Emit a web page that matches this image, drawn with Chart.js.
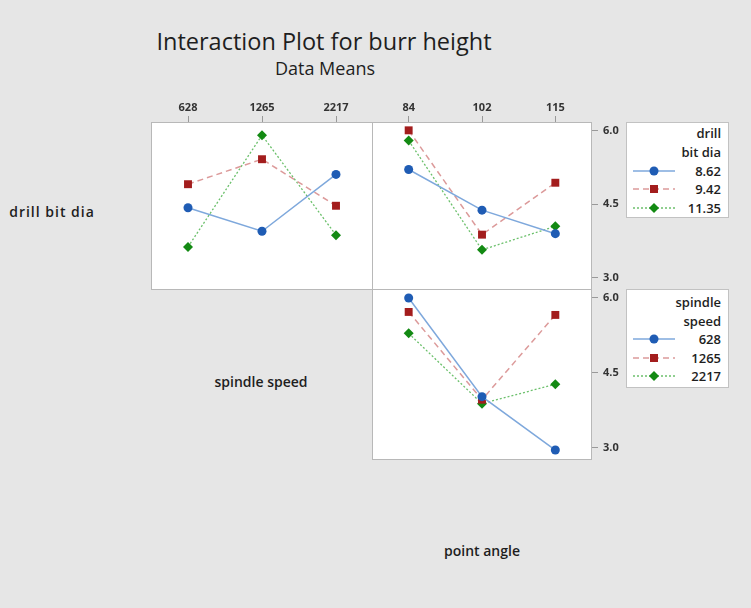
<!DOCTYPE html>
<html>
<head>
<meta charset="utf-8">
<script src="https://cdn.jsdelivr.net/npm/chart.js@4.4.1/dist/chart.umd.min.js"></script>
<style>
  body { margin: 0; width: 751px; height: 608px; overflow: hidden; background: #e6e6e6;
         font-family: 'Open Sans', sans-serif; color: #1e1e1e; position: relative; }
  canvas { position: absolute; }
  .txt { position: absolute; white-space: nowrap; transform: translate(-50%, -50%); }
  .lbl { font-size: 14px; font-weight: 600; }
  .legend { position: absolute; background: #fff; border: 1px solid #c2c2c2; box-sizing: border-box;
            font-size: 13px; font-weight: 600; text-align: right; padding-right: 7px; }
  .legend .row { position: relative; }
  .legend svg { position: absolute; left: 5px; top: 0; }
</style>
</head>
<body>
<div class="txt" style="left:324px;top:41px;font-size:23.5px;font-weight:500;">Interaction Plot for burr height</div>
<div class="txt" style="left:325px;top:68px;font-size:18px;font-weight:500;">Data Means</div>
<div class="txt lbl" style="left:52px;top:211px;letter-spacing:1px;">drill bit dia</div>
<div class="txt lbl" style="left:261px;top:381px;">spindle speed</div>
<div class="txt lbl" style="left:482px;top:550px;">point angle</div>

<canvas id="c1" width="222" height="194" style="left:151px;top:96px"></canvas>
<canvas id="c2" width="262" height="194" style="left:372px;top:96px"></canvas>
<canvas id="c3" width="262" height="171" style="left:372px;top:289px"></canvas>

<div class="legend" id="leg1" style="left:626px;top:122px;width:103px;height:96px;padding-top:1px;line-height:18.75px"></div>
<div class="legend" id="leg2" style="left:626px;top:289px;width:103px;height:99px;padding-top:3px;line-height:18.5px"></div>

<script>
// factor levels
const spindleSpeeds = ['628', '1265', '2217'];
const pointAngles = ['84', '102', '115'];
const drillBitDias = ['8.62', '9.42', '11.35'];

// drill bit dia x spindle speed (top left)
const dia862BySpeed = [4.43, 3.95, 5.11];
const dia942BySpeed = [4.91, 5.42, 4.47];
const dia1135BySpeed = [3.63, 5.91, 3.87];

// drill bit dia x point angle (top right)
const dia862ByAngle = [5.21, 4.38, 3.90];
const dia942ByAngle = [6.01, 3.88, 4.94];
const dia1135ByAngle = [5.80, 3.57, 4.05];

// spindle speed x point angle (bottom right)
const speed628ByAngle = [6.00, 4.02, 2.95];
const speed1265ByAngle = [5.72, 3.96, 5.66];
const speed2217ByAngle = [5.29, 3.88, 4.27];

const yTicks = [3.0, 4.5, 6.0];

// line looks for the three levels
const looks = [
  { line: '#7ea8dc', point: '#1f5cb4', shape: 'circle', radius: 4.5, dash: [], width: 1.5 },
  { line: '#dc9a9a', point: '#a31d1d', shape: 'rect', radius: 5.6, dash: [6, 4], width: 1.5 },
  { line: '#6cc06c', point: '#138a13', shape: 'rectRot', radius: 5, dash: [2, 2], width: 1.3 }
];

const framePlugin = {
  id: 'frame',
  beforeDatasetsDraw(chart) {
    const a = chart.chartArea, ctx = chart.ctx;
    ctx.save();
    ctx.fillStyle = '#fff';
    ctx.fillRect(a.left, a.top, a.right - a.left, a.bottom - a.top);
    ctx.strokeStyle = '#b8b8b8';
    ctx.lineWidth = 1;
    ctx.strokeRect(Math.round(a.left) + 0.5, Math.round(a.top) + 0.5,
      Math.round(a.right - a.left) - 1, Math.round(a.bottom - a.top) - 1);
    ctx.restore();
  }
};

function makeChart(id, labels, series, showX, showY) {
  const tickFont = { family: 'Open Sans', size: 11, weight: '700' };
  new Chart(document.getElementById(id), {
    type: 'line',
    data: {
      labels,
      datasets: series.map((values, i) => ({
        data: values,
        borderColor: looks[i].line,
        borderWidth: looks[i].width,
        borderDash: looks[i].dash,
        pointStyle: looks[i].shape,
        pointRadius: looks[i].radius,
        pointBackgroundColor: looks[i].point,
        pointBorderColor: looks[i].point,
        pointBorderWidth: 0,
        tension: 0,
        clip: false
      }))
    },
    options: {
      responsive: false,
      animation: false,
      devicePixelRatio: 1,
      layout: { padding: 0, autoPadding: false },
      plugins: { legend: { display: false }, tooltip: { enabled: false } },
      scales: {
        x: {
          display: showX,
          position: 'top',
          offset: true,
          grid: { drawOnChartArea: false, tickLength: 6, color: '#999' },
          border: { display: false },
          ticks: { color: '#333', font: tickFont, padding: 2, maxRotation: 0 },
          afterFit: s => { s.height = showX ? 26 : 0; s.paddingLeft = 0; s.paddingRight = 0; }
        },
        y: {
          display: showY,
          position: 'right',
          min: 2.75,
          max: 6.18,
          afterBuildTicks: s => { s.ticks = yTicks.map(v => ({ value: v })); },
          grid: { drawOnChartArea: false, tickLength: 6, color: '#999' },
          border: { display: false },
          ticks: { color: '#333', font: tickFont, padding: 5,
                   callback: v => Number(v).toFixed(1) },
          afterFit: s => { s.width = showY ? 42 : 0; s.paddingTop = 0; s.paddingBottom = 0; }
        }
      }
    },
    plugins: [framePlugin]
  });
}

makeChart('c1', spindleSpeeds, [dia862BySpeed, dia942BySpeed, dia1135BySpeed], true, false);
makeChart('c2', pointAngles, [dia862ByAngle, dia942ByAngle, dia1135ByAngle], true, true);
makeChart('c3', pointAngles, [speed628ByAngle, speed1265ByAngle, speed2217ByAngle], false, true);

// legends
function marker(look) {
  let shape;
  if (look.shape === 'circle') shape = `<circle cx="22" cy="9" r="4.5" fill="${look.point}"/>`;
  else if (look.shape === 'rect') shape = `<rect x="18" y="5" width="8" height="8" fill="${look.point}"/>`;
  else shape = `<polygon points="22,4 27,9 22,14 17,9" fill="${look.point}"/>`;
  return `<svg width="44" height="18"><line x1="1" y1="9" x2="43" y2="9" stroke="${look.line}"
    stroke-width="${look.width}" stroke-dasharray="${look.dash.join(' ')}"/>${shape}</svg>`;
}
function buildLegend(id, titleLines, levels) {
  const el = document.getElementById(id);
  let html = titleLines.map(t => `<div class="row">${t}</div>`).join('');
  html += levels.map((lv, i) => `<div class="row">${marker(looks[i])}${lv}</div>`).join('');
  el.innerHTML = html;
}
buildLegend('leg1', ['drill', 'bit dia'], drillBitDias);
buildLegend('leg2', ['spindle', 'speed'], spindleSpeeds);
</script>
</body>
</html>
